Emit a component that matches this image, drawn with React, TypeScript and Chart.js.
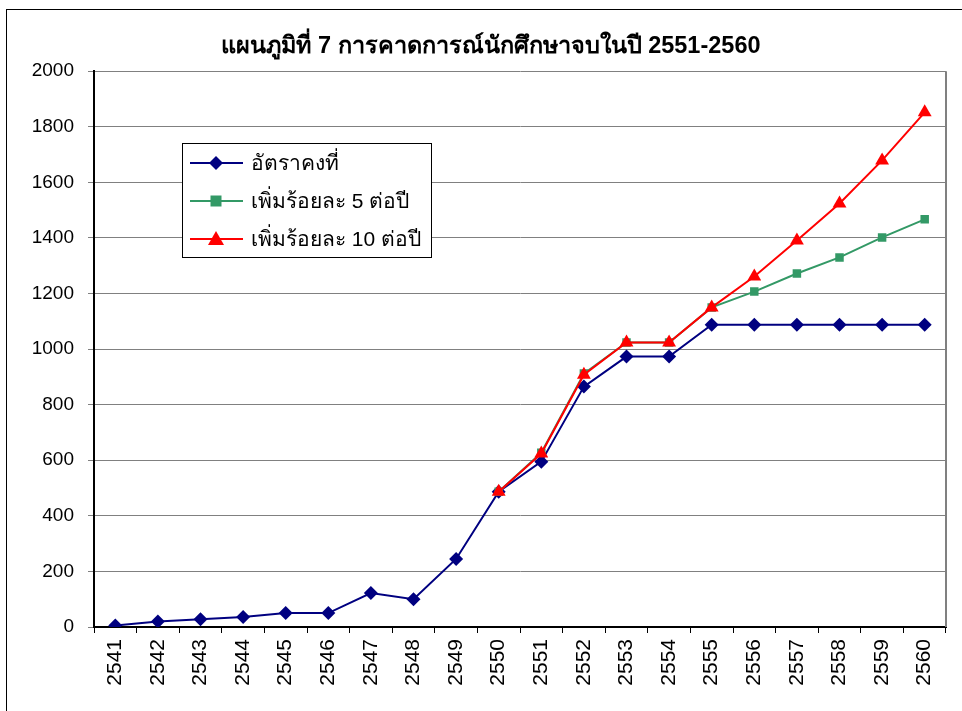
import React, { useEffect, useRef } from "react";
import { Chart, registerables } from "chart.js";

Chart.register(...registerables);

const years = ["2541","2542","2543","2544","2545","2546","2547","2548","2549","2550","2551","2552","2553","2554","2555","2556","2557","2558","2559","2560"];
const constantRate = [5, 20, 28, 36, 50, 50, 122, 100, 245, 487, 595, 865, 973, 973, 1088, 1088, 1088, 1088, 1088, 1088];
const plus5 = [null, null, null, null, null, null, null, null, null, 487, 627, 912, 1024, 1024, 1150, 1207, 1272, 1330, 1402, 1467];
const plus10 = [null, null, null, null, null, null, null, null, null, 487, 624, 908, 1024, 1024, 1150, 1261, 1391, 1524, 1679, 1852];
const seriesNames = ["อัตราคงที่", "เพิ่มร้อยละ 5 ต่อปี", "เพิ่มร้อยละ 10 ต่อปี"];
const yTicks = [0, 200, 400, 600, 800, 1000, 1200, 1400, 1600, 1800, 2000];
const titleText = "แผนภูมิที่ 7 การคาดการณ์นักศึกษาจบในปี 2551-2560";

const FONT = "'Liberation Sans', Arial, 'DejaVu Sans', sans-serif";
const NAVY = "#000080";
const GREEN = "#339966";
const RED = "#FF0000";

const legendPlugin = {
  id: "boxLegend",
  afterDraw(chart: any) {
    const ctx = chart.ctx;
    const x0 = 182, y0 = 143, w = 249, h = 114;
    ctx.save();
    ctx.fillStyle = "#fff";
    ctx.fillRect(x0, y0, w, h);
    ctx.strokeStyle = "#000";
    ctx.lineWidth = 1;
    ctx.strokeRect(x0 + 0.5, y0 + 0.5, w, h);
    const colors = [NAVY, GREEN, RED];
    const rows = [163, 201, 239];
    for (let i = 0; i < 3; i++) {
      const y = rows[i];
      ctx.strokeStyle = colors[i];
      ctx.lineWidth = 2;
      ctx.beginPath();
      ctx.moveTo(190, y);
      ctx.lineTo(243, y);
      ctx.stroke();
      ctx.fillStyle = colors[i];
      const cx = 216;
      ctx.beginPath();
      if (i === 0) {
        ctx.moveTo(cx, y - 7); ctx.lineTo(cx + 7, y); ctx.lineTo(cx, y + 7); ctx.lineTo(cx - 7, y); ctx.closePath();
      } else if (i === 1) {
        ctx.rect(cx - 5.5, y - 5.5, 11, 11);
      } else {
        ctx.moveTo(cx, y - 8); ctx.lineTo(cx + 8, y + 6); ctx.lineTo(cx - 8, y + 6); ctx.closePath();
      }
      ctx.fill();
      ctx.fillStyle = "#000";
      ctx.font = `21px ${FONT}`;
      ctx.textBaseline = "middle";
      ctx.textAlign = "left";
      ctx.fillText(seriesNames[i], 251, y + 1);
    }
    ctx.restore();
  },
};

const framePlugin = {
  id: "frame",
  afterLayout(chart: any) {
    if (chart.titleBlock) {
      chart.titleBlock.left = 36;
    }
  },
  beforeDatasetsDraw(chart: any) {
    const { ctx, chartArea } = chart;
    ctx.save();
    ctx.strokeStyle = "#808080";
    ctx.lineWidth = 2;
    ctx.beginPath();
    ctx.moveTo(chartArea.right, chartArea.top);
    ctx.lineTo(chartArea.right, chartArea.bottom);
    ctx.stroke();
    ctx.restore();
  },
};

export default function App() {
  const ref = useRef<HTMLCanvasElement>(null);
  useEffect(() => {
    const chart = new Chart(ref.current!, {
      type: "line",
      data: {
        labels: years,
        datasets: [
          {
            label: seriesNames[0],
            data: constantRate,
            borderColor: NAVY,
            backgroundColor: NAVY,
            borderWidth: 2,
            pointStyle: "rectRot",
            pointRadius: 7,
            pointBorderWidth: 0,
            order: 2,
          },
          {
            label: seriesNames[1],
            data: plus5 as any,
            borderColor: GREEN,
            backgroundColor: GREEN,
            borderWidth: 2,
            pointStyle: "rect",
            pointRadius: 6,
            pointBorderWidth: 0,
            order: 1,
          },
          {
            label: seriesNames[2],
            data: plus10 as any,
            borderColor: RED,
            backgroundColor: RED,
            borderWidth: 2,
            pointStyle: "triangle",
            pointRadius: 8,
            pointBorderWidth: 0,
            order: 0,
          },
        ],
      },
      options: {
        animation: false,
        responsive: false,
        maintainAspectRatio: false,
        layout: { padding: { left: 8, right: 16, top: 0, bottom: 0 } },
        plugins: {
          legend: { display: false },
          tooltip: { enabled: false },
          title: {
            display: true,
            text: titleText,
            color: "#000",
            font: { family: FONT, size: 23.5, weight: "bold" },
            padding: { top: 32, bottom: 11 },
          },
        },
        scales: {
          x: {
            offset: true,
            grid: {
              offset: true,
              drawOnChartArea: false,
              drawTicks: true,
              tickLength: 6,
              color: "#000",
            },
            border: { color: "#000", width: 2 },
            ticks: {
              minRotation: 90,
              maxRotation: 90,
              autoSkip: false,
              padding: 6,
              color: "#000",
              font: { family: FONT, size: 21 },
            },
            afterFit(scale: any) {
              scale.height = 84;
            },
          },
          y: {
            min: 0,
            max: 2000,
            afterBuildTicks(scale: any) {
              scale.ticks = yTicks.map((v) => ({ value: v }));
            },
            grid: { color: "#808080", lineWidth: 1, tickLength: 6 },
            border: { color: "#000", width: 2 },
            ticks: {
              padding: 14,
              color: "#000",
              font: { family: FONT, size: 19 },
              callback: (v: any) => String(v),
            },
            afterFit(scale: any) {
              scale.width = 86;
            },
          },
        },
      },
      plugins: [framePlugin, legendPlugin],
    });
    return () => chart.destroy();
  }, []);
  return (
    <div style={{ position: "absolute", left: 0, top: 0, width: 962, height: 711, background: "#fff", overflow: "hidden" }}>
      <canvas ref={ref} width={962} height={711} style={{ position: "absolute", left: 0, top: 0 }} />
      <div style={{ position: "absolute", left: 6, top: 9, width: 990, height: 760, border: "1px solid #000", pointerEvents: "none" }} />
    </div>
  );
}
